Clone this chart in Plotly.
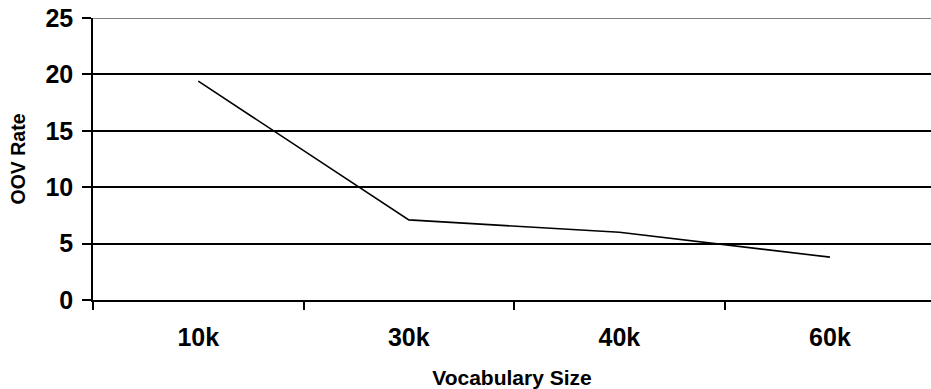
import plotly.graph_objects as go

categories = ["10k", "30k", "40k", "60k"]
oov_rate = [19.4, 7.1, 6.0, 3.8]
y_ticks = [0, 5, 10, 15, 20, 25]

FONT = "Arial, Liberation Sans, sans-serif"

fig = go.Figure()
fig.add_trace(go.Scatter(
    x=categories, y=oov_rate, mode="lines",
    line=dict(color="black", width=1.6),
    showlegend=False, hoverinfo="skip",
))

fig.update_layout(
    width=931, height=389,
    margin=dict(l=93, r=0, t=18, b=89),
    paper_bgcolor="white", plot_bgcolor="white",
    font=dict(family=FONT, color="black"),
    xaxis=dict(
        type="category", range=[-0.5, 3.48], automargin=False,
        tickson="boundaries", ticks="outside", ticklen=8, tickwidth=1.5, tickcolor="black",
        ticklabelstandoff=14,
        showline=True, linecolor="black", linewidth=1.5,
        showgrid=False, zeroline=False,
        tickfont=dict(size=25, family=FONT, weight="bold"),
        title=dict(text="Vocabulary Size", font=dict(size=21, family=FONT, weight="bold"), standoff=22),
    ),
    yaxis=dict(
        range=[0, 25], tickvals=y_ticks, automargin=False,
        ticks="outside", ticklen=9, tickwidth=1.5, tickcolor="black",
        ticklabelstandoff=4,
        showline=True, linecolor="black", linewidth=1.5,
        showgrid=True, gridcolor="black", gridwidth=1.5, zeroline=False,
        tickfont=dict(size=25, family=FONT, weight="bold"),
        title=dict(text="OOV Rate", font=dict(size=19.5, family=FONT, weight="bold"), standoff=15),
    ),
)

fig.add_shape(type="line", xref="paper", yref="y", x0=0, x1=1, y0=y_ticks[-1], y1=y_ticks[-1],
              line=dict(color="#808080", width=2), layer="above")

fig.write_html("out.html", config={"displayModeBar": False},
               post_script="document.body.style.margin='0';document.body.style.overflow='hidden';")
